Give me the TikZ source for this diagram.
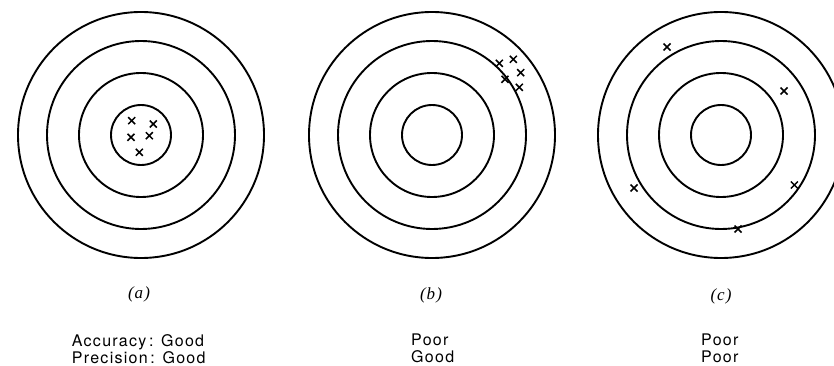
\documentclass[tikz,border=0pt]{standalone}
\usepackage{fontspec}
\usepackage{tikz}
\usetikzlibrary{shapes.misc}
\newfontfamily\verdictfont{TeX Gyre Heros}[LetterSpace=8]
\newfontfamily\tagfont{Liberation Serif}[LetterSpace=6]

\begin{document}
\begin{tikzpicture}[x=1pt,y=-1pt,
    ring/.style={line width=1.9pt},
    hit/.style={cross out,draw,line width=1.5pt,minimum size=5.5pt,inner sep=0pt},
    tag/.style={font=\tagfont\itshape\fontsize{17}{19}\selectfont},
    verdict/.style={font=\verdictfont\fontsize{16}{17}\selectfont,align=left,anchor=north west,inner sep=0pt}]
            \useasboundingbox (0,0) rectangle (834,366);
            \clip (0,0) rectangle (834,366);
            \foreach \cx in {141,432,721}
                \foreach \r in {30,62,94,123}
                    \draw[ring] (\cx,135) circle[radius=\r pt];
            \node[hit] (a1) at (131.7,120.7) {};
            \node[hit] (a2) at (153.3,124) {};
            \node[hit] (a3) at (131,137.3) {};
            \node[hit] (a4) at (149.3,135.7) {};
            \node[hit] (a5) at (139.3,152.3) {};
            \node[hit] (b1) at (499.3,63.3) {};
            \node[hit] (b2) at (513.3,59.3) {};
            \node[hit] (b3) at (520.7,72.7) {};
            \node[hit] (b4) at (505,79.3) {};
            \node[hit] (b5) at (519.3,87.3) {};
            \node[hit] (c1) at (667,47) {};
            \node[hit] (c2) at (784,91) {};
            \node[hit] (c3) at (634,188) {};
            \node[hit] (c4) at (794.3,185) {};
            \node[hit] (c5) at (738,229) {};
            \node[tag] (tagA) at (139,294) {(a)};
            \node[tag] (tagB) at (431,295) {(b)};
            \node[tag] (tagC) at (721,296) {(c)};
            \node[verdict] (verdA) at (71.7,334) {Accuracy\,: Good\\Precision\,: Good};
            \node[verdict] (verdB) at (411,334) {Poor\\Good};
            \node[verdict] (verdC) at (701,334) {Poor\\Poor};
        \end{tikzpicture}
\end{document}
